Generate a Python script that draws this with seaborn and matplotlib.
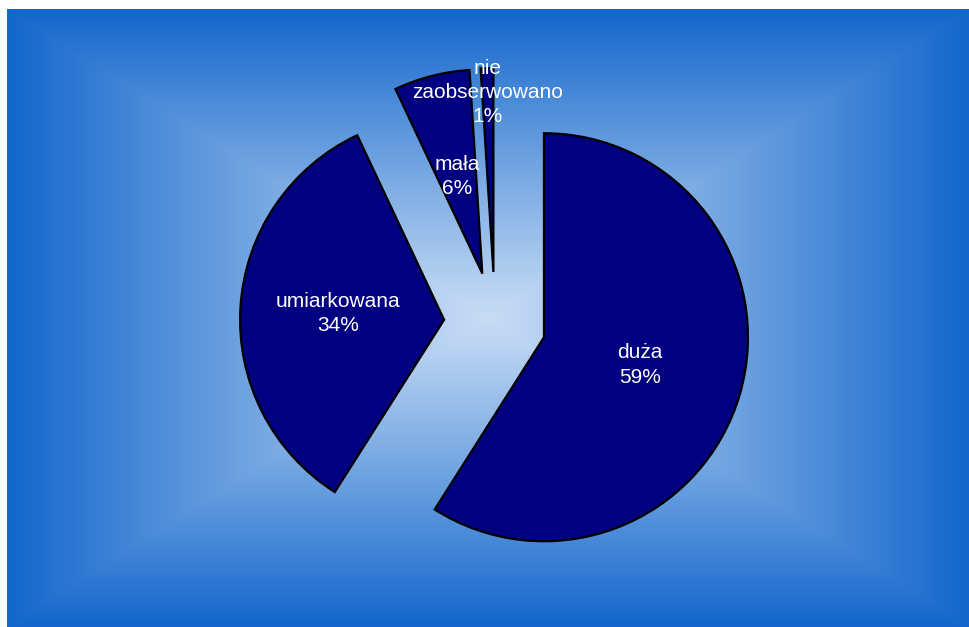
import numpy as np
import matplotlib
matplotlib.use("Agg")
import matplotlib.pyplot as plt
import seaborn as sns

# Severity categories and their shares (%)
categories = ["duża", "umiarkowana", "mała", "nie\nzaobserwowano"]
shares = [59, 34, 6, 1]

sns.set_style("white")
plt.rcParams["font.family"] = ["Liberation Sans", "DejaVu Sans"]

W, H = 969, 627
fig = plt.figure(figsize=(W / 100, H / 100), dpi=100)
ax = fig.add_axes([0, 0, 1, 1])

# Rectangular "from centre" gradient backdrop
x0, x1, y0, y1 = 7, W, 0, H - 9
nx, ny = 480, 310
gx = np.linspace(-1, 1, nx)
gy = np.linspace(-1, 1, ny)
GX, GY = np.meshgrid(gx, gy)
t = np.maximum(np.abs(GX), np.abs(GY)) ** 1.05
inner = np.array([200, 221, 245]) / 255
outer = np.array([19, 102, 204]) / 255
img = inner[None, None, :] * (1 - t[..., None]) + outer[None, None, :] * t[..., None]
ax.imshow(img, extent=[x0, x1, y0, y1], origin="lower", zorder=0,
          interpolation="bilinear", aspect="auto")

navy = sns.color_palette(["#000080"])[0]
radius = 204
offset = 0.25 * radius  # every slice pulled out by a quarter of the radius
wedges, _ = ax.pie(
    shares,
    explode=[offset] * len(shares),
    startangle=90,
    counterclock=False,
    center=(495, H - 323),
    radius=radius,
    colors=[navy] * len(shares),
    wedgeprops=dict(edgecolor="black", linewidth=1.6),
    frame=True,
)
ax.set_xlim(0, W)
ax.set_ylim(0, H)
ax.set_aspect("equal")
ax.axis("off")
for w in wedges:
    w.set_zorder(2)

# Category and share labels inside each slice
label_dist = [0.49, 0.52, 0.49, 0.88]
for w, cat, v, d in zip(wedges, categories, shares, label_dist):
    ang = np.deg2rad((w.theta1 + w.theta2) / 2)
    cx, cy = w.center
    ax.text(cx + d * radius * np.cos(ang), cy + d * radius * np.sin(ang),
            f"{cat}\n{v}%", ha="center", va="center", color="white",
            fontsize=15, zorder=3, linespacing=1.35)

fig.savefig("out.png", dpi=100, facecolor="white")
